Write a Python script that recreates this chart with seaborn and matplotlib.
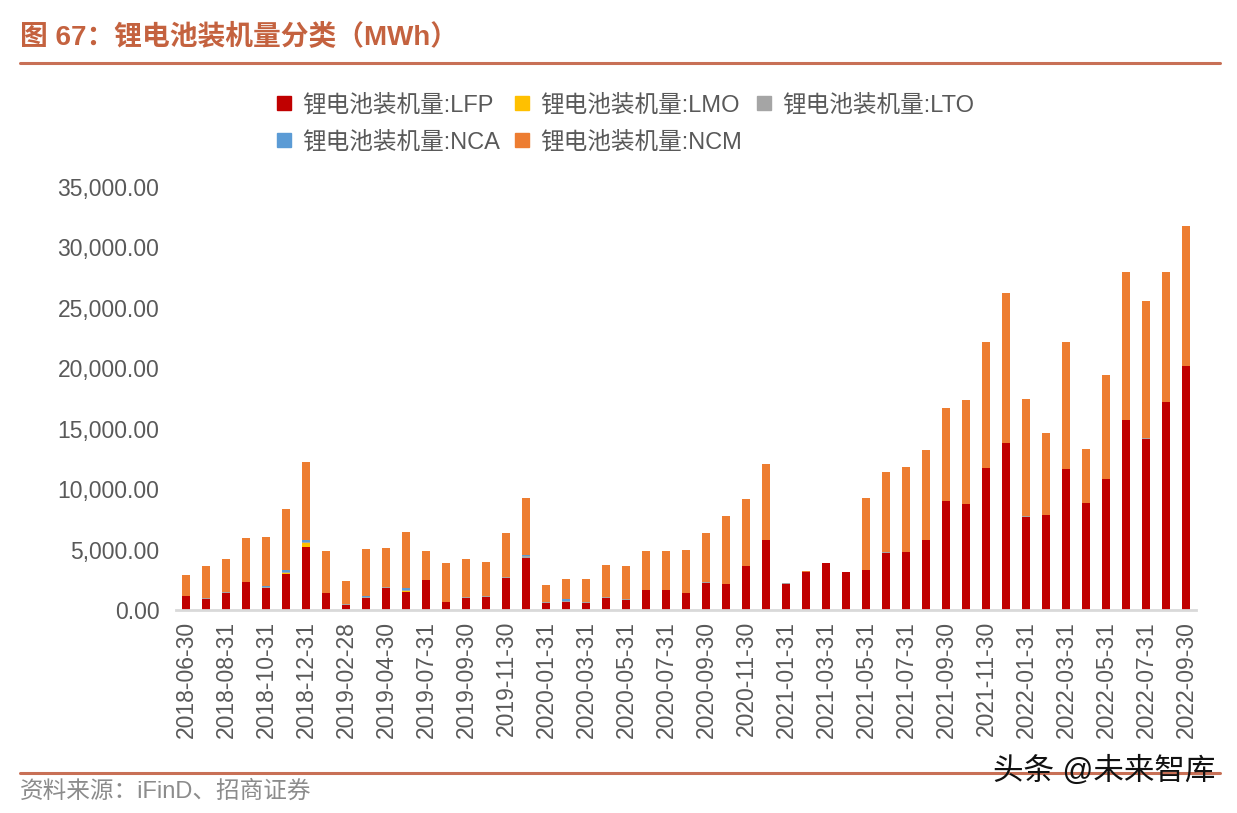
import numpy as np
import pandas as pd
import seaborn as sns
import matplotlib
matplotlib.use("Agg")
import matplotlib.pyplot as plt
from matplotlib.lines import Line2D

dates = ['2018-06-30', '2018-07-31', '2018-08-31', '2018-09-30', '2018-10-31', '2018-11-30',
         '2018-12-31', '2019-01-31', '2019-02-28', '2019-03-31', '2019-04-30', '2019-06-30',
         '2019-07-31', '2019-08-31', '2019-09-30', '2019-10-31', '2019-11-30', '2019-12-31',
         '2020-01-31', '2020-02-29', '2020-03-31', '2020-04-30', '2020-05-31', '2020-06-30',
         '2020-07-31', '2020-08-31', '2020-09-30', '2020-10-31', '2020-11-30', '2020-12-31',
         '2021-01-31', '2021-02-28', '2021-03-31', '2021-04-30', '2021-05-31', '2021-06-30',
         '2021-07-31', '2021-08-31', '2021-09-30', '2021-10-31', '2021-11-30', '2021-12-31',
         '2022-01-31', '2022-02-28', '2022-03-31', '2022-04-30', '2022-05-31', '2022-06-30',
         '2022-07-31', '2022-08-31', '2022-09-30']

lfp = [1120, 950, 1420, 2300, 1860, 3000, 5200, 1390, 430, 1010, 1860, 1530,
       2500, 680, 1010, 1090, 2660, 4340, 620, 680, 600, 1010, 840, 1670,
       1640, 1420, 2270, 2160, 3650, 5770, 2160, 3160, 3850, 3160, 3320, 4750,
       4800, 5790, 9000, 8760, 11710, 13780, 7730, 7840, 11680, 8840, 10820, 15740,
       14180, 17230, 20180]
lmo = [0, 0, 0, 0, 0, 60, 360, 0, 0, 0, 0, 60,
       0, 0, 0, 0, 0, 0, 0, 0, 0, 0, 0, 0,
       0, 0, 0, 0, 0, 0, 0, 0, 0, 0, 0, 0,
       0, 0, 0, 0, 0, 0, 0, 0, 0, 0, 0, 0,
       0, 0, 0]
lto = [30, 50, 30, 30, 80, 100, 40, 30, 80, 80, 80, 40,
       0, 20, 50, 60, 100, 100, 40, 30, 60, 30, 40, 20,
       20, 20, 20, 20, 20, 20, 40, 20, 20, 10, 20, 20,
       20, 20, 20, 20, 20, 20, 20, 20, 20, 20, 20, 20,
       20, 20, 20]
nca = [0, 0, 0, 0, 60, 180, 190, 0, 0, 30, 0, 150,
       0, 0, 0, 0, 0, 80, 0, 190, 0, 0, 0, 0,
       0, 0, 0, 0, 0, 0, 0, 0, 0, 0, 0, 0,
       0, 0, 0, 0, 0, 0, 0, 0, 0, 0, 0, 0,
       0, 0, 0]
ncm = [1750, 2650, 2730, 3640, 4080, 5030, 6490, 3500, 1900, 3910, 3200, 4690,
       2400, 3160, 3120, 2860, 3650, 4760, 1380, 1650, 1940, 2700, 2770, 3150,
       3180, 3510, 4100, 5630, 5520, 6300, 70, 60, 30, 10, 5910, 6680,
       7020, 7410, 7700, 8600, 10470, 12430, 9740, 6820, 10450, 4490, 8600, 12180,
       11360, 10690, 11550]

series = ['锂电池装机量:LFP', '锂电池装机量:LMO', '锂电池装机量:LTO',
          '锂电池装机量:NCA', '锂电池装机量:NCM']
colors = ['#C00000', '#FFC000', '#A5A5A5', '#5B9BD5', '#ED7D31']

df = pd.DataFrame({'date': dates, 'LFP': lfp, 'LMO': lmo, 'LTO': lto, 'NCA': nca, 'NCM': ncm})
cols = ['LFP', 'LMO', 'LTO', 'NCA', 'NCM']
cum = df[cols].cumsum(axis=1)

sns.set_style("white")
plt.rcParams['font.family'] = ['Liberation Sans', 'Noto Sans CJK SC', 'DejaVu Sans']

fig = plt.figure(figsize=(12.37, 8.13), dpi=100)
ax = fig.add_axes([0.1423, 0.2497, 0.8246, 0.5203])

# draw stacked bars from the top layer down
for col, c in reversed(list(zip(cols, colors))):
    sns.barplot(x=df['date'], y=cum[col], color=c, width=0.4, saturation=1,
                errorbar=None, ax=ax, order=dates, linewidth=0)

ax.set_ylim(0, 35000)
ax.set_yticks(np.arange(0, 35001, 5000))
ax.set_yticklabels([f'{v:,.2f}' for v in np.arange(0, 35001, 5000)])
ax.set_xticks(range(0, len(dates), 2))
ax.set_xticklabels(dates[::2], rotation=90)
ax.set_xlabel('')
ax.set_ylabel('')
ax.tick_params(axis='x', length=0, labelsize=16.5, colors='#595959', pad=8)
ax.tick_params(axis='y', length=0, labelsize=16.5, colors='#595959', pad=12)
for s in ['top', 'right', 'left']:
    ax.spines[s].set_visible(False)
ax.spines['bottom'].set_color('#D9D9D9')
ax.spines['bottom'].set_linewidth(2)

handles = [Line2D([0], [0], marker='s', linestyle='none', markersize=10,
                  markerfacecolor=c, markeredgecolor=c) for c in colors]
order = [0, 3, 1, 4, 2]
leg = fig.legend([handles[i] for i in order], [series[i] for i in order],
                 loc='upper left', bbox_to_anchor=(276 / 1237, 1 - 94 / 813),
                 ncol=3, frameon=False, fontsize=17, handletextpad=0.4,
                 columnspacing=0.6, labelspacing=0.62, handlelength=0.7,
                 borderaxespad=0, borderpad=0)
for t in leg.get_texts():
    t.set_color('#595959')

# title, rules, source
fig.text(20 / 1237, 1 - 38 / 813, '图 67：锂电池装机量分类（MWh）', fontsize=20,
         fontweight='bold', color='#C4623F', va='center', ha='left')
fig.add_artist(plt.Line2D([20 / 1237, 1220 / 1237], [1 - 63 / 813, 1 - 63 / 813],
                          color='#C87056', linewidth=2.2))
fig.add_artist(plt.Line2D([20 / 1237, 1220 / 1237], [1 - 773 / 813, 1 - 773 / 813],
                          color='#C87056', linewidth=2.2))
fig.text(20 / 1237, 1 - 792 / 813, '资料来源：iFinD、招商证券', fontsize=17,
         color='#8C8C8C', va='center', ha='left')
fig.text(1215 / 1237, 1 - 772 / 813, '头条 @未来智库', fontsize=22,
         color='#111111', va='center', ha='right')

fig.savefig('out.png', dpi=100)
